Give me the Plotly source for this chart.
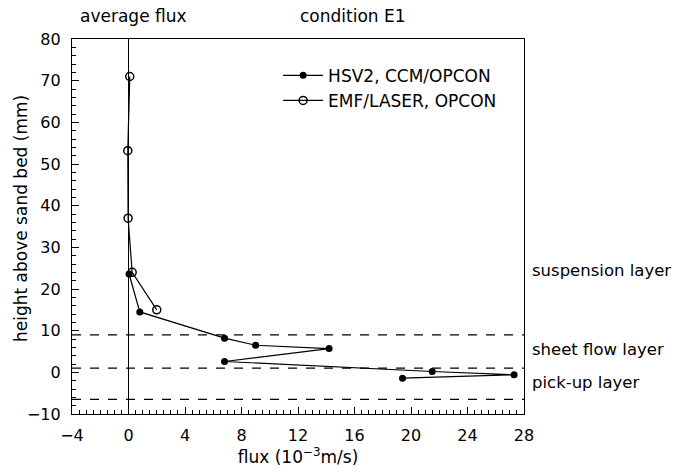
import plotly.graph_objects as go

# HSV2, CCM/OPCON (filled)
hsv_flux = [0.04, 0.8, 6.8, 9.0, 14.2, 6.8, 21.5, 27.3, 19.4]
hsv_height = [23.6, 14.5, 8.2, 6.5, 5.7, 2.6, 0.2, -0.6, -1.4]

# EMF/LASER, OPCON (open)
emf_flux = [0.09, -0.05, -0.03, 0.26, 2.0]
emf_height = [71.0, 53.2, 37.0, 24.0, 15.0]

layer_bounds = [9.0, 1.0, -6.5]
layer_names = ["suspension layer", "sheet flow layer", "pick-up layer"]
layer_label_y = [24.4, 5.4, -2.5]

FONT = "DejaVu Sans"
FS = 17

fig = go.Figure()

for yb in layer_bounds:
    fig.add_shape(type="line", xref="x", yref="y", x0=-4, x1=28, y0=yb, y1=yb,
                  line=dict(color="black", width=1.3, dash="dash"))

fig.add_trace(go.Scatter(
    x=hsv_flux, y=hsv_height, mode="lines+markers", name="HSV2, CCM/OPCON",
    line=dict(color="black", width=1.2),
    marker=dict(symbol="circle", size=7, color="black"),
))
fig.add_trace(go.Scatter(
    x=emf_flux, y=emf_height, mode="lines+markers", name="EMF/LASER, OPCON",
    line=dict(color="black", width=1.2),
    marker=dict(symbol="circle-open", size=8, color="black", line=dict(width=1.5)),
))

for name, yy in zip(layer_names, layer_label_y):
    fig.add_annotation(x=1.0, xref="paper", xanchor="left", xshift=6,
                       y=yy, yref="y", yanchor="middle", text=name,
                       showarrow=False, font=dict(size=16.5, color="black", family=FONT))

fig.add_annotation(x=0.013, xref="paper", xanchor="left", y=1.0, yref="paper",
                   yanchor="bottom", yshift=11, text="average flux", showarrow=False,
                   font=dict(size=FS, color="black", family=FONT))
fig.add_annotation(x=0.5, xref="paper", xanchor="left", y=1.0, yref="paper",
                   yanchor="bottom", yshift=11, text="condition E1", showarrow=False,
                   font=dict(size=FS, color="black", family=FONT))

# y-axis title
fig.add_annotation(x=0, xref="paper", xanchor="center", xshift=-51,
                   y=0.52, yref="paper", yanchor="middle", textangle=-90,
                   text="height above sand bed (mm)", showarrow=False,
                   font=dict(size=FS, color="black", family=FONT))

axis_common = dict(
    showgrid=False, ticks="inside", ticklen=7, tickwidth=1.2, tickcolor="black",
    showline=True, linecolor="black", linewidth=1.3, mirror=True,
    tickfont=dict(size=16, color="black", family=FONT),
    minor=dict(ticks="inside", ticklen=4, tickwidth=1, tickcolor="black"),
)

fig.update_xaxes(range=[-4, 28], tickmode="linear", tick0=-4, dtick=4,
                 minor_dtick=0.5, zeroline=True, zerolinecolor="black", zerolinewidth=1.3,
                 ticklabelstandoff=7,
                 title=dict(text="flux (10<sup>−3</sup>m/s)", standoff=2,
                            font=dict(size=FS, color="black", family=FONT)),
                 **axis_common)
fig.update_yaxes(range=[-10, 80], tickmode="linear", tick0=-10, dtick=10,
                 minor_dtick=2, zeroline=False,
                 ticklabelstandoff=7,
                 **axis_common)

fig.update_layout(
    width=676, height=472,
    margin=dict(l=72, r=152, t=39, b=58),
    paper_bgcolor="white", plot_bgcolor="white",
    font=dict(family=FONT, color="black"),
    showlegend=True,
    legend=dict(x=0.456, y=0.95, xanchor="left", yanchor="top",
                bgcolor="rgba(0,0,0,0)", itemwidth=40,
                font=dict(size=FS, color="black", family=FONT),
                tracegroupgap=0),
)

fig.write_html("out.html")
